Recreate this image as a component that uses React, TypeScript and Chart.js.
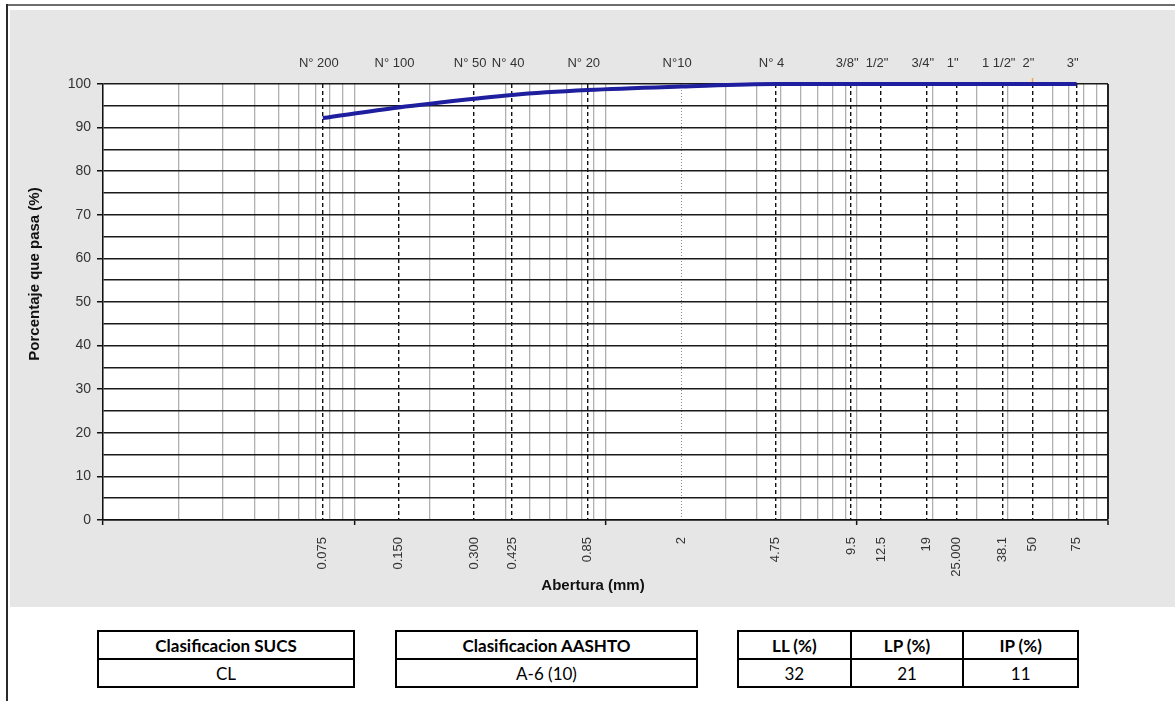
import React, { useEffect, useRef } from 'react';
import { Chart, registerables } from 'chart.js';

Chart.register(...registerables);

// ---------- data ----------
const sieveSizesMm = [0.075, 0.15, 0.3, 0.425, 0.85, 2, 4.75, 9.5, 12.5, 19, 25, 38.1, 50, 75];
const sieveNames = ['N° 200', 'N° 100', 'N° 50', 'N° 40', 'N° 20', 'N°10', 'N° 4', '3/8"', '1/2"', '3/4"', '1"', '1 1/2"', '2"', '3"'];
const sieveTickLabels = ['0.075', '0.150', '0.300', '0.425', '0.85', '2', '4.75', '9.5', '12.5', '19', '25.000', '38.1', '50', '75'];
const percentPassing = [92.2, 94.6, 96.6, 97.5, 98.6, 99.4, 100, 100, 100, 100, 100, 100, 100, 100];

const logGridValues = [
  0.01, 0.02, 0.03, 0.04, 0.05, 0.06, 0.07, 0.08, 0.09,
  0.1, 0.2, 0.3, 0.4, 0.5, 0.6, 0.7, 0.8, 0.9,
  1, 2, 3, 4, 5, 6, 7, 8, 9,
  10, 20, 30, 40, 50, 60, 70, 80, 90,
  100,
];
const decadeValues = [0.01, 0.1, 1, 10, 100];

const yGridValues = [0, 5, 10, 15, 20, 25, 30, 35, 40, 45, 50, 55, 60, 65, 70, 75, 80, 85, 90, 95, 100];
const yTickValues = [0, 10, 20, 30, 40, 50, 60, 70, 80, 90, 100];
const yTickLabels = ['0', '10', '20', '30', '40', '50', '60', '70', '80', '90', '100'];

const xTitle = 'Abertura (mm)';
const yTitle = 'Porcentaje que pasa (%)';

const sucsHeader = ['Clasificacion SUCS'];
const sucsValue = ['CL'];
const aashtoHeader = ['Clasificacion AASHTO'];
const aashtoValue = ['A-6 (10)'];
const limitHeaders = ['LL (%)', 'LP (%)', 'IP (%)'];
const limitValues = ['32', '21', '11'];

// ---------- helpers ----------
const near = (a: number, b: number) => Math.abs(a - b) < 1e-9 * Math.max(1, Math.abs(b));
const indexOfVal = (arr: number[], v: number) => arr.findIndex((s) => near(s, v));
const isSieve = (v: number) => indexOfVal(sieveSizesMm, v) >= 0;
const isDecade = (v: number) => indexOfVal(decadeValues, v) >= 0;
const FONT = '"Liberation Sans", Arial, sans-serif';

const xTickValues = (() => {
  const all = [...logGridValues];
  sieveSizesMm.forEach((s) => {
    if (indexOfVal(all, s) < 0) all.push(s);
  });
  return all.sort((a, b) => a - b);
})();

function Table({ left, width, headers, values }: { left: number; width: number; headers: string[]; values: string[] }) {
  const n = headers.length;
  const cell = (text: string, i: number, header: boolean) => (
    <div
      key={(header ? 'h' : 'v') + i}
      style={{
        display: 'flex',
        alignItems: 'center',
        justifyContent: 'center',
        borderRight: i < n - 1 ? '2px solid #000' : 'none',
        borderBottom: header ? '2px solid #000' : 'none',
        fontWeight: header ? 700 : 400,
      }}
    >
      {text}
    </div>
  );
  return (
    <div
      style={{
        position: 'absolute',
        left,
        top: 630,
        width,
        height: 58,
        boxSizing: 'border-box',
        border: '2px solid #000',
        display: 'grid',
        gridTemplateColumns: `repeat(${n}, 1fr)`,
        gridTemplateRows: '28px 1fr',
        fontFamily: 'Lato, "Open Sans", sans-serif',
        fontSize: 17,
        color: '#000',
        lineHeight: 1,
      }}
    >
      {headers.map((h, i) => cell(h, i, true))}
      {values.map((v, i) => cell(v, i, false))}
    </div>
  );
}

export default function App() {
  const canvasRef = useRef<HTMLCanvasElement | null>(null);

  useEffect(() => {
    document.body.style.margin = '0';
    const canvas = canvasRef.current;
    if (!canvas) return;

    const bgPlugin = {
      id: 'bgPlugin',
      beforeDraw(chart: any) {
        const { ctx, width, height, chartArea } = chart;
        ctx.save();
        ctx.fillStyle = '#e6e6e6';
        ctx.fillRect(0, 0, width, height);
        ctx.fillStyle = '#ffffff';
        ctx.fillRect(chartArea.left, chartArea.top, chartArea.right - chartArea.left, chartArea.bottom - chartArea.top);
        ctx.restore();
      },
    };

    const titlePlugin = {
      id: 'titlePlugin',
      afterDraw(chart: any) {
        const { ctx, chartArea } = chart;
        ctx.save();
        ctx.fillStyle = '#111';
        ctx.font = `bold 15px ${FONT}`;
        ctx.textAlign = 'center';
        ctx.textBaseline = 'middle';
        ctx.fillText(xTitle, chartArea.left + 490, chartArea.bottom + 66);
        ctx.translate(chartArea.left - 68, chartArea.top + 190);
        ctx.rotate(-Math.PI / 2);
        ctx.fillText(yTitle, 0, 0);
        ctx.restore();
      },
    };

    const chart = new Chart(canvas, {
      type: 'line',
      data: {
        datasets: [
          {
            label: 'Granulometría',
            data: sieveSizesMm.map((s, i) => ({ x: s, y: percentPassing[i] })),
            borderColor: '#1e1e9e',
            borderWidth: 4,
            pointRadius: 0,
            fill: false,
            cubicInterpolationMode: 'monotone',
            clip: false as any,
          },
        ],
      },
      options: {
        responsive: false,
        animation: false,
        devicePixelRatio: 1,
        layout: { padding: { left: 0, right: 67, top: 0, bottom: 0 } },
        plugins: {
          legend: { display: false },
          tooltip: { enabled: false },
        },
        scales: {
          x: {
            type: 'logarithmic',
            position: 'bottom',
            min: 0.01,
            max: 100,
            afterBuildTicks: (scale: any) => {
              scale.ticks = xTickValues.map((v) => ({ value: v }));
            },
            afterFit: (scale: any) => {
              scale.height = 87;
            },
            ticks: {
              autoSkip: false,
              minRotation: 90,
              maxRotation: 90,
              padding: 12,
              color: '#333',
              font: { family: FONT, size: 13 },
              callback: (value: any) => {
                const i = indexOfVal(sieveSizesMm, Number(value));
                return i >= 0 ? sieveTickLabels[i] : '';
              },
            },
            grid: {
              color: (ctx: any) => {
                const v = ctx.tick ? ctx.tick.value : NaN;
                if (near(v, 100)) return '#222';
                if (near(v, 2)) return '#8a8a8a';
                if (isSieve(v)) return '#111';
                return '#b0b0b0';
              },
              lineWidth: (ctx: any) => {
                const v = ctx.tick ? ctx.tick.value : NaN;
                if (near(v, 100)) return 2;
                if (near(v, 2)) return 1;
                if (isSieve(v)) return 1.4;
                return 1.3;
              },
              tickLength: 5,
              tickWidth: 1.5,
              tickColor: (ctx: any) => (ctx.tick && isDecade(ctx.tick.value) ? '#111' : 'rgba(0,0,0,0)'),
            },
            border: {
              display: true,
              color: '#111',
              width: 1.5,
              dash: (ctx: any) => {
                const v = ctx.tick ? ctx.tick.value : NaN;
                if (near(v, 2)) return [1, 2];
                if (isSieve(v) && !near(v, 100)) return [4, 3];
                return [];
              },
            },
          },
          x2: {
            type: 'logarithmic',
            position: 'top',
            min: 0.01,
            max: 100,
            afterBuildTicks: (scale: any) => {
              scale.ticks = sieveSizesMm.map((v) => ({ value: v }));
            },
            afterFit: (scale: any) => {
              scale.height = 74;
            },
            ticks: {
              autoSkip: false,
              minRotation: 0,
              maxRotation: 0,
              padding: 7,
              labelOffset: -4,
              color: '#333',
              font: { family: FONT, size: 13 },
              callback: (_v: any, i: number) => sieveNames[i],
            },
            grid: {
              drawOnChartArea: false,
              drawTicks: true,
              tickLength: 6,
              color: 'rgba(0,0,0,0)',
              tickWidth: 1.5,
              tickColor: (ctx: any) => (ctx.tick && near(ctx.tick.value, 50) ? '#f2a640' : 'rgba(0,0,0,0)'),
            },
            border: { display: false },
          },
          y: {
            type: 'linear',
            min: 0,
            max: 100,
            afterBuildTicks: (scale: any) => {
              scale.ticks = yGridValues.map((v) => ({ value: v }));
            },
            afterFit: (scale: any) => {
              scale.width = 93;
            },
            ticks: {
              autoSkip: false,
              padding: 6,
              color: '#333',
              font: { family: FONT, size: 14 },
              callback: (value: any) => {
                const i = yTickValues.indexOf(Number(value));
                return i >= 0 ? yTickLabels[i] : '';
              },
            },
            grid: {
              color: '#1a1a1a',
              lineWidth: 1.5,
              tickLength: 6,
              tickWidth: 1.5,
              tickColor: (ctx: any) => (ctx.tick && yTickValues.indexOf(ctx.tick.value) >= 0 ? '#111' : 'rgba(0,0,0,0)'),
            },
            border: { display: true, color: '#111', width: 1.5 },
          },
        },
      } as any,
      plugins: [bgPlugin, titlePlugin],
    });

    return () => {
      chart.destroy();
    };
  }, []);

  return (
    <div style={{ position: 'relative', width: 1175, height: 701, background: '#fff', overflow: 'hidden' }}>
      <div style={{ position: 'absolute', left: 6, top: 4, width: 1169, height: 2, background: '#6e6e6e' }} />
      <div style={{ position: 'absolute', left: 6, top: 4, width: 2, height: 697, background: '#2a2a2a' }} />
      <canvas
        ref={canvasRef}
        width={1165}
        height={597}
        style={{ position: 'absolute', left: 10, top: 10, width: 1165, height: 597 }}
      />
      <Table left={97} width={258} headers={sucsHeader} values={sucsValue} />
      <Table left={395} width={303} headers={aashtoHeader} values={aashtoValue} />
      <Table left={737} width={342} headers={limitHeaders} values={limitValues} />
    </div>
  );
}
